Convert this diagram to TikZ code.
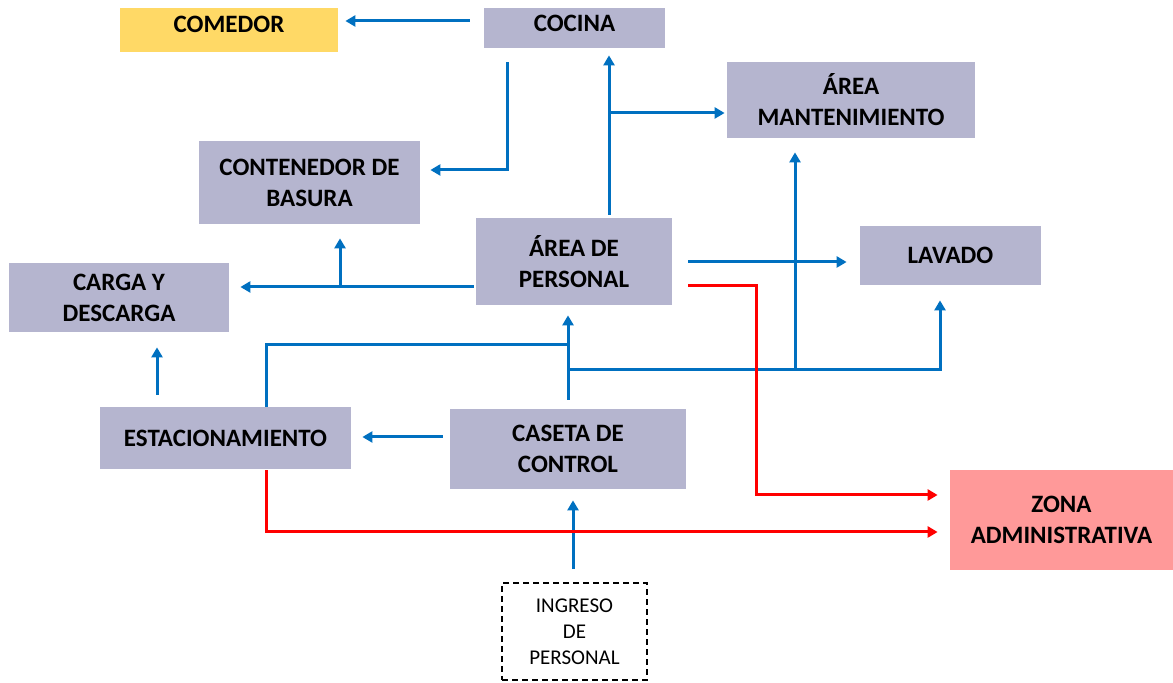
\documentclass[tikz,border=0pt]{standalone}
\usepackage{fontspec}
\setmainfont{Carlito}
\usepackage{xcolor}
\usetikzlibrary{arrows.meta}

\definecolor{boxgray}{HTML}{B5B5CF}
\definecolor{boxyellow}{HTML}{FFD966}
\definecolor{boxrose}{HTML}{FF9999}
\definecolor{flowblue}{HTML}{0070C0}
\definecolor{flowred}{HTML}{FF0000}

\begin{document}
\begin{tikzpicture}[x=0.5pt,y=-0.5pt,>={Triangle[length=5pt,width=5.5pt]},
  area/.style={rectangle,fill=boxgray,inner sep=0pt,align=center,font=\fontsize{12.5}{15.5}\selectfont\bfseries},
  entry/.style={rectangle,draw=black,dash pattern=on 3pt off 2pt,line width=0.9pt,inner sep=0pt,align=center,font=\fontsize{10.5}{13}\selectfont},
  flow/.style={flowblue,line width=1.5pt},
  adminflow/.style={flowred,line width=1.5pt}]
  \useasboundingbox (0,0) rectangle (1173,683);
  % areas
  \node[area,fill=boxyellow,minimum width=109pt,minimum height=22pt] (comedor) at (229,30) {\raisebox{5.5pt}{COMEDOR}};
  \node[area,minimum width=90.5pt,minimum height=20pt] (cocina) at (574.5,28) {\raisebox{5pt}{COCINA}};
  \node[area,minimum width=124pt,minimum height=38pt] (mant) at (851,100) {ÁREA\\MANTENIMIENTO};
  \node[area,minimum width=110.5pt,minimum height=41.5pt] (basura) at (309.5,182.5) {CONTENEDOR DE\\BASURA};
  \node[area,minimum width=98pt,minimum height=43.5pt] (personal) at (574,261.5) {ÁREA DE\\PERSONAL};
  \node[area,minimum width=90.5pt,minimum height=29.5pt] (lavado) at (950.5,255.5) {LAVADO};
  \node[area,minimum width=110pt,minimum height=34.5pt] (carga) at (119,297.5) {CARGA Y\\DESCARGA};
  \node[area,minimum width=125.5pt,minimum height=31pt] (estac) at (225.5,438) {ESTACIONAMIENTO};
  \node[area,minimum width=118pt,minimum height=40pt] (caseta) at (568,449) {CASETA DE\\CONTROL};
  \node[area,fill=boxrose,minimum width=111.5pt,minimum height=50pt] (zona) at (1061.5,520) {ZONA\\ADMINISTRATIVA};
  \node[entry,minimum width=72.5pt,minimum height=48.5pt] (ingreso) at (574.5,631.5) {INGRESO\\DE\\PERSONAL};
  % junctions
  \coordinate (jmant) at (609,113);
  \coordinate (jbasura) at (340,287);
  \coordinate (jestac) at (568,345);
  \coordinate (jlavado) at (568,370);
  \coordinate (jbranch) at (795,370);
  \coordinate (radmin) at (756,495);
  % flows
  \draw[flow,->] ([shift={(-14,-7)}]cocina.west) -- ([shift={(7,-9)}]comedor.east);
  \draw[flow,->] ([shift={(24,14)}]cocina.south west) |- ([shift={(10,-12.5)}]basura.east);
  \draw[flow,->] ([shift={(35,-3)}]personal.north) -- ([shift={(34.5,7)}]cocina.south);
  \draw[flow,->] (jmant) -- ([shift={(-2,13)}]mant.west);
  \draw[flow,->] ([shift={(-2,25.5)}]personal.west) -- ([shift={(11,-10.5)}]carga.east);
  \draw[flow,->] (jbasura) -- ([shift={(30.5,14)}]basura.south);
  \draw[flow,->] ([shift={(16,0.5)}]personal.east) -- ([shift={(-13,6.5)}]lavado.west);
  \draw[flow,->] ([shift={(0,-9)}]caseta.north) -- ([shift={(-6,10)}]personal.south);
  \draw[flow] (jestac) -| ([shift={(40.5,0)}]estac.north);
  \draw[flow,->] (jlavado) -| ([shift={(-10.5,15)}]lavado.south);
  \draw[flow,->] (jbranch) -- ([shift={(-56,14)}]mant.south);
  \draw[flow,->] ([shift={(-68.5,-12)}]estac.north) -- ([shift={(38,15)}]carga.south);
  \draw[flow,->] ([shift={(-7,-12)}]caseta.west) -- ([shift={(11,-1)}]estac.east);
  \draw[flow,->] ([shift={(-1.5,-13)}]ingreso.north) -- ([shift={(5,11)}]caseta.south);
  \draw[adminflow,->] ([shift={(16,24.5)}]personal.east) -| (radmin) -- ([shift={(-12,-25)}]zona.west);
  \draw[adminflow,->] ([shift={(40.5,1)}]estac.south) |- ([shift={(-12,12)}]zona.west);
\end{tikzpicture}
\end{document}
